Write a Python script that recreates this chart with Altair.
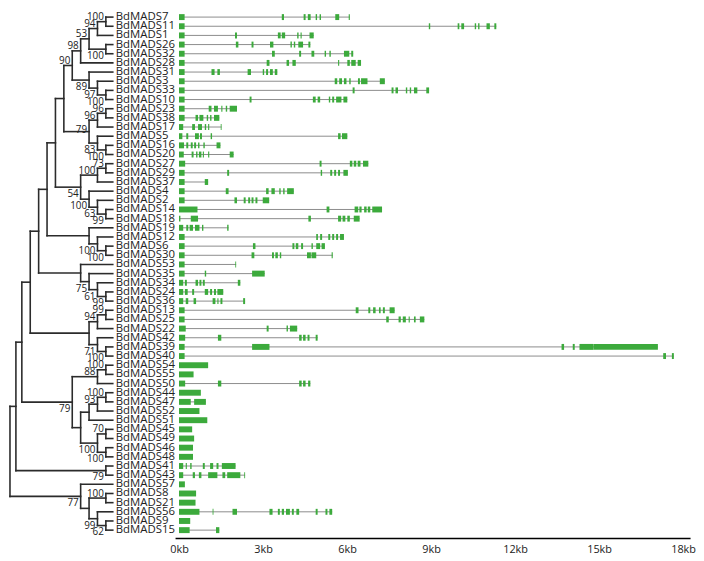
import altair as alt
import pandas as pd

# ---------------- data ----------------
leaf_names = [
    "BdMADS7", "BdMADS11", "BdMADS1", "BdMADS26", "BdMADS32", "BdMADS28", "BdMADS31", "BdMADS3",
    "BdMADS33", "BdMADS10", "BdMADS23", "BdMADS38", "BdMADS17", "BdMADS5", "BdMADS16", "BdMADS20",
    "BdMADS27", "BdMADS29", "BdMADS37", "BdMADS4", "BdMADS2", "BdMADS14", "BdMADS18", "BdMADS19",
    "BdMADS12", "BdMADS6", "BdMADS30", "BdMADS53", "BdMADS35", "BdMADS34", "BdMADS24", "BdMADS36",
    "BdMADS13", "BdMADS25", "BdMADS22", "BdMADS42", "BdMADS39", "BdMADS40", "BdMADS54", "BdMADS55",
    "BdMADS50", "BdMADS44", "BdMADS47", "BdMADS52", "BdMADS51", "BdMADS45", "BdMADS49", "BdMADS46",
    "BdMADS48", "BdMADS41", "BdMADS43", "BdMADS57", "BdMADS8", "BdMADS21", "BdMADS56", "BdMADS9",
    "BdMADS15",
]

# exon (start, end) in kb for each gene
exons = {
    "BdMADS7": [(0, .2), (3.67, 3.75), (4.45, 4.52), (4.6, 4.7), (4.88, 4.93), (5.02, 5.07), (5.58, 5.72), (6.06, 6.1)],
    "BdMADS11": [(0, .2), (8.92, 8.97), (9.95, 10.01), (10.08, 10.18), (10.56, 10.61), (10.68, 10.73), (10.98, 11.1), (11.26, 11.33)],
    "BdMADS1": [(0, .2), (2.0, 2.07), (3.53, 3.63), (3.67, 3.79), (4.22, 4.27), (4.34, 4.38), (4.66, 4.81)],
    "BdMADS26": [(0, .2), (2.03, 2.12), (2.59, 2.66), (3.25, 3.37), (3.98, 4.03), (4.1, 4.15), (4.26, 4.43), (4.62, 4.69)],
    "BdMADS32": [(0, .2), (3.32, 3.42), (4.29, 4.36), (4.73, 4.83), (5.2, 5.25), (5.37, 5.42), (5.89, 6.08), (6.15, 6.22)],
    "BdMADS28": [(0, .2), (3.13, 3.23), (3.84, 3.93), (4.05, 4.17), (5.68, 5.72), (6.01, 6.1), (6.15, 6.31), (6.38, 6.5)],
    "BdMADS31": [(0, .2), (1.16, 1.27), (1.37, 1.46), (2.45, 2.57), (2.99, 3.04), (3.11, 3.18), (3.25, 3.35), (3.42, 3.51)],
    "BdMADS3": [(0, .2), (5.56, 5.65), (5.72, 5.82), (5.89, 5.98), (6.08, 6.13), (6.39, 6.46), (6.5, 6.73), (7.17, 7.35)],
    "BdMADS33": [(0, .2), (6.2, 6.27), (7.59, 7.66), (7.73, 7.82), (8.1, 8.15), (8.24, 8.29), (8.39, 8.51), (8.83, 8.93)],
    "BdMADS10": [(0, .2), (2.52, 2.59), (4.78, 4.88), (4.95, 5.04), (5.35, 5.4), (5.47, 5.54), (5.61, 5.8), (5.87, 6.01)],
    "BdMADS23": [(0, .2), (1.06, 1.16), (1.25, 1.39), (1.51, 1.55), (1.67, 1.72), (1.81, 2.07)],
    "BdMADS38": [(0, .2), (0.59, 0.68), (0.73, 0.87), (0.99, 1.04), (1.11, 1.16), (1.25, 1.44)],
    "BdMADS17": [(0, .15), (0.47, 0.57), (0.68, 0.82), (0.92, 0.97), (1.04, 1.08), (1.49, 1.52)],
    "BdMADS5": [(0, .12), (0.26, 0.33), (0.57, 0.71), (0.75, 0.82), (1.13, 1.18), (5.68, 5.77), (5.82, 6.01)],
    "BdMADS16": [(0, .18), (0.26, 0.33), (0.42, 0.49), (0.54, 0.61), (0.68, 0.73), (0.87, 0.92), (1.34, 1.48)],
    "BdMADS20": [(0, .17), (0.45, 0.52), (0.61, 0.66), (0.71, 0.8), (0.85, 0.89), (1.04, 1.08), (1.81, 1.95)],
    "BdMADS27": [(0, .22), (5.02, 5.09), (6.1, 6.19), (6.24, 6.33), (6.38, 6.48), (6.57, 6.76)],
    "BdMADS29": [(0, .2), (1.72, 1.79), (5.06, 5.11), (5.4, 5.47), (5.54, 5.61), (5.68, 5.75), (5.87, 6.03)],
    "BdMADS37": [(0, .2), (0.92, 1.04)],
    "BdMADS4": [(0, .2), (1.67, 1.77), (3.11, 3.2), (3.3, 3.42), (3.58, 3.63), (3.72, 3.77), (3.86, 4.1)],
    "BdMADS2": [(0, .2), (1.98, 2.07), (2.31, 2.38), (2.47, 2.54), (2.59, 2.66), (2.73, 2.8), (2.99, 3.22)],
    "BdMADS14": [(0, .66), (5.27, 5.37), (6.27, 6.4), (6.44, 6.52), (6.61, 6.7), (6.74, 6.83), (6.9, 7.25)],
    "BdMADS18": [(0, .05), (0.42, 0.68), (4.62, 4.71), (5.68, 5.79), (5.84, 5.94), (6.01, 6.1), (6.24, 6.45)],
    "BdMADS19": [(0, .15), (0.26, 0.33), (0.38, 0.5), (0.57, 0.73), (0.82, 0.87), (1.72, 1.77)],
    "BdMADS12": [(0, .2), (4.9, 4.96), (5.04, 5.11), (5.33, 5.4), (5.47, 5.54), (5.61, 5.68), (5.75, 5.89)],
    "BdMADS6": [(0, .2), (2.64, 2.73), (4.05, 4.12), (4.17, 4.26), (4.36, 4.43), (4.73, 4.78), (4.9, 5.04), (5.09, 5.21)],
    "BdMADS30": [(0, .2), (2.59, 2.69), (3.32, 3.39), (3.44, 3.53), (3.6, 3.65), (4.57, 4.71), (4.73, 4.9), (5.45, 5.49)],
    "BdMADS53": [(0, .2), (2.01, 2.04)],
    "BdMADS35": [(0, .2), (0.92, 0.97), (2.61, 3.06)],
    "BdMADS34": [(0, .15), (0.21, 0.28), (0.59, 0.68), (0.73, 0.8), (0.85, 0.92), (2.1, 2.19)],
    "BdMADS24": [(0, .15), (0.21, 0.31), (0.47, 0.54), (0.92, 1.04), (1.11, 1.18), (1.25, 1.32), (1.37, 1.58)],
    "BdMADS36": [(0, .15), (0.24, 0.33), (0.52, 0.61), (1.2, 1.3), (1.37, 1.41), (1.48, 1.55), (2.29, 2.36)],
    "BdMADS13": [(0, .2), (6.31, 6.41), (6.76, 6.83), (6.93, 7.02), (7.14, 7.2), (7.28, 7.35), (7.52, 7.7)],
    "BdMADS25": [(0, .2), (7.4, 7.49), (7.84, 7.92), (7.99, 8.1), (8.2, 8.24), (8.39, 8.45), (8.6, 8.76)],
    "BdMADS22": [(0, .24), (3.13, 3.2), (3.84, 3.89), (3.96, 4.22)],
    "BdMADS42": [(0, .22), (1.39, 1.51), (4.29, 4.38), (4.43, 4.52), (4.59, 4.66), (4.88, 4.95)],
    "BdMADS39": [(0, .2), (2.61, 3.23), (13.66, 13.75), (14.06, 14.13), (14.3, 14.8), (14.8, 17.1)],
    "BdMADS40": [(0, .2), (17.29, 17.39), (17.6, 17.67)],
    "BdMADS54": [(0, 1.04)],
    "BdMADS55": [(0, .52)],
    "BdMADS50": [(0, .22), (1.39, 1.51), (4.29, 4.38), (4.43, 4.52), (4.61, 4.69)],
    "BdMADS44": [(0, .78)],
    "BdMADS47": [(0, .42), (0.54, 0.96)],
    "BdMADS52": [(0, .73)],
    "BdMADS51": [(0, 1.01)],
    "BdMADS45": [(0, .47)],
    "BdMADS49": [(0, .54)],
    "BdMADS46": [(0, .5)],
    "BdMADS48": [(0, .5)],
    "BdMADS41": [(0, .15), (0.24, 0.28), (0.4, 0.45), (0.85, 0.92), (1.11, 1.22), (1.34, 1.41), (1.53, 2.02)],
    "BdMADS43": [(0, .15), (0.49, 0.57), (0.71, 0.8), (1.04, 1.37), (1.55, 1.65), (1.72, 2.19), (2.33, 2.36)],
    "BdMADS57": [(0, .21)],
    "BdMADS8": [(0, .61)],
    "BdMADS21": [(0, .59)],
    "BdMADS56": [(0, .73), (1.2, 1.23), (1.91, 2.07), (3.23, 3.34), (3.53, 3.6), (3.67, 3.75), (3.82, 3.96),
                 (4.03, 4.1), (4.19, 4.29), (4.88, 4.95), (5.23, 5.3), (5.37, 5.47)],
    "BdMADS9": [(0, .4)],
    "BdMADS15": [(0, .38), (1.32, 1.44)],
}

# tree: (node depth level, bootstrap, label side a=above b=below m=middle, children)
A = (1, 100, "a", ["BdMADS7", "BdMADS11"])
B = (2, 94, "a", [A, "BdMADS1"])
C = (1, 100, "b", ["BdMADS26", "BdMADS32"])
D = (3, 53, "a", [B, C])
E = (4, 98, "a", [D, "BdMADS28"])
I = (1, 100, "b", ["BdMADS33", "BdMADS10"])
H = (2, 97, "b", ["BdMADS3", I])
G = (3, 89, "b", ["BdMADS31", H])
F = (5, 90, "a", [E, G])
J = (1, 96, "a", ["BdMADS23", "BdMADS38"])
K = (2, 96, "a", [J, "BdMADS17"])
L = (1, 100, "b", ["BdMADS16", "BdMADS20"])
M = (2, 83, "b", ["BdMADS5", L])
N = (3, 79, "m", [K, M])
Y = (6, None, None, [F, N])
O = (1, 73, "a", ["BdMADS27", "BdMADS29"])
P = (2, 100, "a", [O, "BdMADS37"])
T = (1, 99, "b", ["BdMADS14", "BdMADS18"])
S = (2, 63, "b", ["BdMADS2", T])
R = (3, 100, "b", ["BdMADS4", S])
Q = (4, 54, "b", [P, R])
Z = (7, None, None, [Y, Q])
V = (1, 100, "b", ["BdMADS6", "BdMADS30"])
W = (2, 100, "b", ["BdMADS12", V])
X = (3, None, None, ["BdMADS19", W])
AA = (8, None, None, [Z, X])
DD = (1, 99, "b", ["BdMADS24", "BdMADS36"])
EE = (2, 61, "b", ["BdMADS34", DD])
FF = (3, 75, "b", ["BdMADS35", EE])
CC = (4, None, None, ["BdMADS53", FF])
BB = (9, None, None, [AA, CC])
II = (1, 99, "a", ["BdMADS13", "BdMADS25"])
JJ = (2, 94, "a", [II, "BdMADS22"])
LL = (1, 100, "b", ["BdMADS39", "BdMADS40"])
KK = (2, 71, "b", ["BdMADS42", LL])
GG = (3, None, None, [JJ, KK])
HH = (10, None, None, [BB, GG])
OO = (1, 100, "a", ["BdMADS54", "BdMADS55"])
PP = (2, 88, "a", [OO, "BdMADS50"])
QQ = (1, 100, "a", ["BdMADS44", "BdMADS47"])
RR = (2, 93, "a", [QQ, "BdMADS52"])
SS = (3, None, None, [RR, "BdMADS51"])
TT = (1, 70, "a", ["BdMADS45", "BdMADS49"])
UU = (1, 100, "b", ["BdMADS46", "BdMADS48"])
VV = (2, 100, "b", [TT, UU])
WW = (4, None, None, [SS, VV])
NN = (5, 79, "b", [PP, WW])
MM = (11, None, None, [HH, NN])
YY = (1, 79, "b", ["BdMADS41", "BdMADS43"])
XX = (12, None, None, [MM, YY])
a1 = (1, 100, "a", ["BdMADS8", "BdMADS21"])
a2 = (1, 62, "b", ["BdMADS9", "BdMADS15"])
a3 = (2, 99, "b", ["BdMADS56", a2])
a4 = (3, None, None, [a1, a3])
a5 = (4, 77, "b", ["BdMADS57", a4])
ROOT = (13, None, None, [XX, a5])

axis_ticks_kb = [0, 3, 6, 9, 12, 15, 18]

# ---------------- build tables ----------------
seg_rows, boot_rows = [], []


def layout(node):
    if isinstance(node, str):
        return 0.0, float(leaf_names.index(node))
    lvl, boot, side, kids = node
    pts = [layout(k) for k in kids]
    ys = [p[1] for p in pts]
    y = (ys[0] + ys[-1]) / 2.0
    seg_rows.append(dict(x=lvl, x2=lvl, y=ys[0], y2=ys[-1]))
    for cx, cy in pts:
        seg_rows.append(dict(x=lvl, x2=cx, y=cy, y2=cy))
    if boot is not None:
        boot_rows.append(dict(x=lvl, y=y, label=str(boot), side=side))
    return float(lvl), y


layout(ROOT)
seg_df = pd.DataFrame(seg_rows)
boot_df = pd.DataFrame(boot_rows)
leaf_df = pd.DataFrame({"name": leaf_names, "y": [float(i) for i in range(len(leaf_names))], "x": 0.0})

line_rows, exon_rows = [], []
for i, name in enumerate(leaf_names):
    ex = exons[name]
    end = max(e for _, e in ex)
    if len(ex) > 1:
        line_rows.append(dict(s=0.0, e=end, y=float(i)))
    for s, e in ex:
        exon_rows.append(dict(s=s, e=e, y=float(i)))
line_df = pd.DataFrame(line_rows)
exon_df = pd.DataFrame(exon_rows)

# ---------------- scales ----------------
FONT = "Open Sans"
H = 532
yscale = alt.Scale(domain=[-0.5395, 56.862], reverse=True, nice=False, zero=False)
tscale = alt.Scale(domain=[13, 11, 1, 0], range=[1, 13, 98, 105], nice=False, zero=False)
gscale = alt.Scale(domain=[-0.141, 18.249], nice=False, zero=False)

# ---------------- tree panel ----------------
branches = alt.Chart(seg_df).mark_rule(color="#2b2b2b", strokeWidth=1.6, strokeCap="square").encode(
    x=alt.X("x:Q", scale=tscale, axis=None),
    x2="x2:Q",
    y=alt.Y("y:Q", scale=yscale, axis=None),
    y2="y2:Q",
)
leaf_text = alt.Chart(leaf_df).mark_text(
    align="left", baseline="middle", dx=3, font=FONT, fontSize=11.5, color="#222"
).encode(
    x=alt.X("x:Q", scale=tscale, axis=None),
    y=alt.Y("y:Q", scale=yscale, axis=None),
    text="name:N",
)


def boot_layer(side, dy):
    return alt.Chart(boot_df).transform_filter(alt.datum.side == side).mark_text(
        align="right", baseline="middle", dx=-2, dy=dy, font=FONT, fontSize=10, color="#222"
    ).encode(
        x=alt.X("x:Q", scale=tscale, axis=None),
        y=alt.Y("y:Q", scale=yscale, axis=None),
        text="label:N",
    )


tree = alt.layer(
    branches, leaf_text, boot_layer("a", -4.5), boot_layer("b", 7), boot_layer("m", -2)
).properties(width=168, height=H)

# ---------------- gene structure panel ----------------
xaxis = alt.Axis(
    values=axis_ticks_kb, labelExpr="datum.value + 'kb'", ticks=False, grid=False,
    domainColor="#000", domainWidth=1.5, labelFont=FONT, labelFontSize=11, labelColor="#222",
    labelPadding=6, title=None, labelOverlap=False,
)
introns = alt.Chart(line_df).mark_rule(color="#8c8c8c", strokeWidth=1).encode(
    x=alt.X("s:Q", scale=gscale, axis=xaxis),
    x2="e:Q",
    y=alt.Y("y:Q", scale=yscale, axis=None),
)
exon_marks = alt.Chart(exon_df).mark_rule(color="#3caa3c", strokeWidth=6, strokeCap="butt").encode(
    x=alt.X("s:Q", scale=gscale, axis=xaxis),
    x2="e:Q",
    y=alt.Y("y:Q", scale=yscale, axis=None),
)
genes = alt.layer(introns, exon_marks).properties(width=521, height=H)

chart = alt.hconcat(tree, genes, spacing=0, bounds="flush").properties(padding=0).configure_view(stroke=None)

chart.save("out.html", embed_options={"renderer": "svg", "actions": False})
